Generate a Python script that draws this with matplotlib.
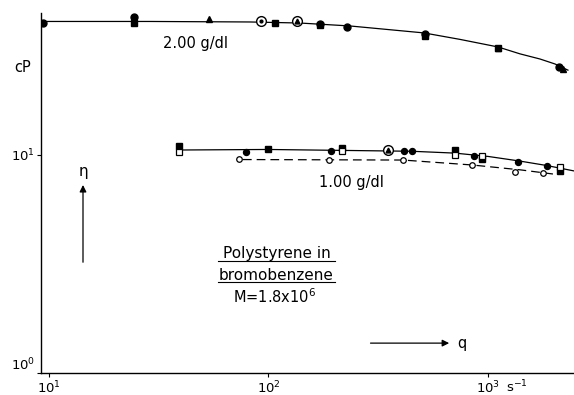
import matplotlib
matplotlib.use("Agg")
import matplotlib.pyplot as plt

plt.rcParams['font.family'] = ['DejaVu Sans']
plt.rcParams['mathtext.fontset'] = 'dejavusans'

# ---- data: 2.00 g/dl ----
c2_line_x = [9.2, 28.8, 82.3, 139, 235, 511, 746, 1111, 1399, 1726, 2020, 2314]
c2_line_y = [40.97, 40.97, 40.75, 40.3, 39.07, 36.3, 33.9, 31.3, 29.1, 27.56, 26.15, 24.5]
c2_circ_x = [9.4, 24.4, 171.6, 228, 516, 2106]
c2_circ_y = [40.4, 42.9, 39.9, 38.7, 35.9, 25.3]
c2_sq_x = [24.4, 107, 171.6, 516, 1111]
c2_sq_y = [40.3, 40.3, 39.5, 35.2, 30.8]
c2_tri_x = [53.6, 1111, 2196]
c2_tri_y = [42.1, 31.0, 24.8]
c2_cdot_x = [92.5]
c2_cdot_y = [41.2]
c2_ctri_x = [134.8]
c2_ctri_y = [41.2]

# ---- data: 1.00 g/dl, upper (solid) ----
c1_line_x = [39.4, 99.5, 451, 707, 1000, 1386, 1850, 2466]
c1_line_y = [10.54, 10.6, 10.4, 10.2, 9.85, 9.39, 8.95, 8.45]
c1_circ_x = [79.0, 192.6, 414, 451, 864, 1370, 1857]
c1_circ_y = [10.3, 10.4, 10.4, 10.4, 9.9, 9.29, 8.9]
c1_sq_x = [39.1, 99.5, 216, 707, 939, 2128]
c1_sq_y = [11.0, 10.65, 10.8, 10.5, 9.6, 8.45]
c1_osq_x = [39.1, 216, 707, 939, 2128]
c1_osq_y = [10.3, 10.4, 10.0, 9.9, 8.81]
c1_ctri_x = [350]
c1_ctri_y = [10.5]

# ---- data: 1.00 g/dl, lower (dashed) ----
c1b_line_x = [76.5, 410, 845, 1400, 1977]
c1b_line_y = [9.53, 9.48, 9.0, 8.55, 8.18]
c1b_ocirc_x = [73.4, 188.6, 410, 845, 1327, 1781]
c1b_ocirc_y = [9.6, 9.48, 9.48, 9.0, 8.36, 8.27]

xlim = (9.2, 2466)
ylim = (1.0, 44.8)
xticks = [10, 100, 1000]
xticklabels = ['10$^{1}$', '10$^{2}$', '10$^{3}$']
yticks = [1, 10]
yticklabels = ['10$^{0}$', '10$^{1}$']

fig = plt.figure(figsize=(5.74, 3.95), dpi=100)
ax = fig.add_axes([41/574, 22/395, 533/574, 360/395])
ax.set_xscale('log')
ax.set_yscale('log')
ax.set_xlim(*xlim)
ax.set_ylim(*ylim)
ax.minorticks_off()
ax.set_xticks(xticks)
ax.set_xticklabels(xticklabels, fontsize=9.5)
ax.set_yticks(yticks)
ax.set_yticklabels(yticklabels, fontsize=9.5)
ax.get_yticklabels()[0].set_verticalalignment('bottom')
ax.tick_params(axis='x', length=3, width=0.8, color='black', pad=1.5)
ax.tick_params(axis='y', length=3, width=0.8, color='black', pad=1.5)
for s in ['top', 'right']:
    ax.spines[s].set_visible(False)
for s in ['left', 'bottom']:
    ax.spines[s].set_linewidth(1.0)

k = 'black'
lw = 0.9
ax.plot(c2_line_x, c2_line_y, '-', color=k, lw=lw)
ax.plot(c1_line_x, c1_line_y, '-', color=k, lw=lw)
ax.plot(c1b_line_x, c1b_line_y, '--', color=k, lw=lw, dashes=(7, 4))

ms = 5
ax.plot(c2_circ_x, c2_circ_y, 'o', color=k, ms=ms)
ax.plot(c2_sq_x, c2_sq_y, 's', color=k, ms=ms)
ax.plot(c2_tri_x, c2_tri_y, '^', color=k, ms=ms)
ax.plot(c2_cdot_x, c2_cdot_y, 'o', mfc='white', mec=k, ms=7, mew=1.0)
ax.plot(c2_cdot_x, c2_cdot_y, 'o', color=k, ms=2)
ax.plot(c2_ctri_x, c2_ctri_y, 'o', mfc='white', mec=k, ms=7, mew=1.0)
ax.plot(c2_ctri_x, c2_ctri_y, '^', color=k, ms=3.5)

ax.plot(c1_circ_x, c1_circ_y, 'o', color=k, ms=4.3)
ax.plot(c1_sq_x, c1_sq_y, 's', color=k, ms=4.3)
ax.plot(c1_osq_x, c1_osq_y, 's', mfc='white', mec=k, ms=4.3, mew=0.9)
ax.plot(c1_ctri_x, c1_ctri_y, 'o', mfc='white', mec=k, ms=7, mew=1.0)
ax.plot(c1_ctri_x, c1_ctri_y, '^', color=k, ms=3.5)
ax.plot(c1b_ocirc_x, c1b_ocirc_y, 'o', mfc='white', mec=k, ms=4, mew=0.9)

T = ax.transAxes
fs = 10.5
ax.text(0.289, 0.9028, '2.00 g/dl', transform=T, ha='center', va='baseline', fontsize=fs)
ax.text(0.5826, 0.5167, '1.00 g/dl', transform=T, ha='center', va='baseline', fontsize=fs)
ax.text(0.4418, 0.319, 'Polystyrene in', transform=T, ha='center', va='baseline', fontsize=11)
ax.text(0.4418, 0.2583, 'bromobenzene', transform=T, ha='center', va='baseline', fontsize=11)
ax.text(0.439, 0.1944, 'M=1.8x10$^{6}$', transform=T, ha='center', va='baseline', fontsize=fs)
ax.plot([0.332, 0.5516], [0.311, 0.311], transform=T, color=k, lw=0.8, clip_on=False)
ax.plot([0.332, 0.5516], [0.2514, 0.2514], transform=T, color=k, lw=0.8, clip_on=False)

# eta arrow
ax.annotate('', xy=(0.0788, 0.530), xytext=(0.0788, 0.30), xycoords=T,
            arrowprops=dict(arrowstyle='-|>', color=k, lw=0.9, mutation_scale=10))
ax.text(0.0788, 0.561, 'η', transform=T, ha='center', va='center', fontsize=11)
# q arrow
ax.annotate('', xy=(0.771, 0.083), xytext=(0.613, 0.083), xycoords=T,
            arrowprops=dict(arrowstyle='-|>', color=k, lw=0.9, mutation_scale=10))
ax.text(0.781, 0.083, 'q', transform=T, ha='left', va='center', fontsize=fs)
ax.text(0.872, -0.040, 's$^{-1}$', transform=T, ha='left', va='center', fontsize=9.5)
fig.text(0.039, 0.8177, 'cP', ha='center', va='baseline', fontsize=fs)

fig.savefig('out.png', dpi=100)
